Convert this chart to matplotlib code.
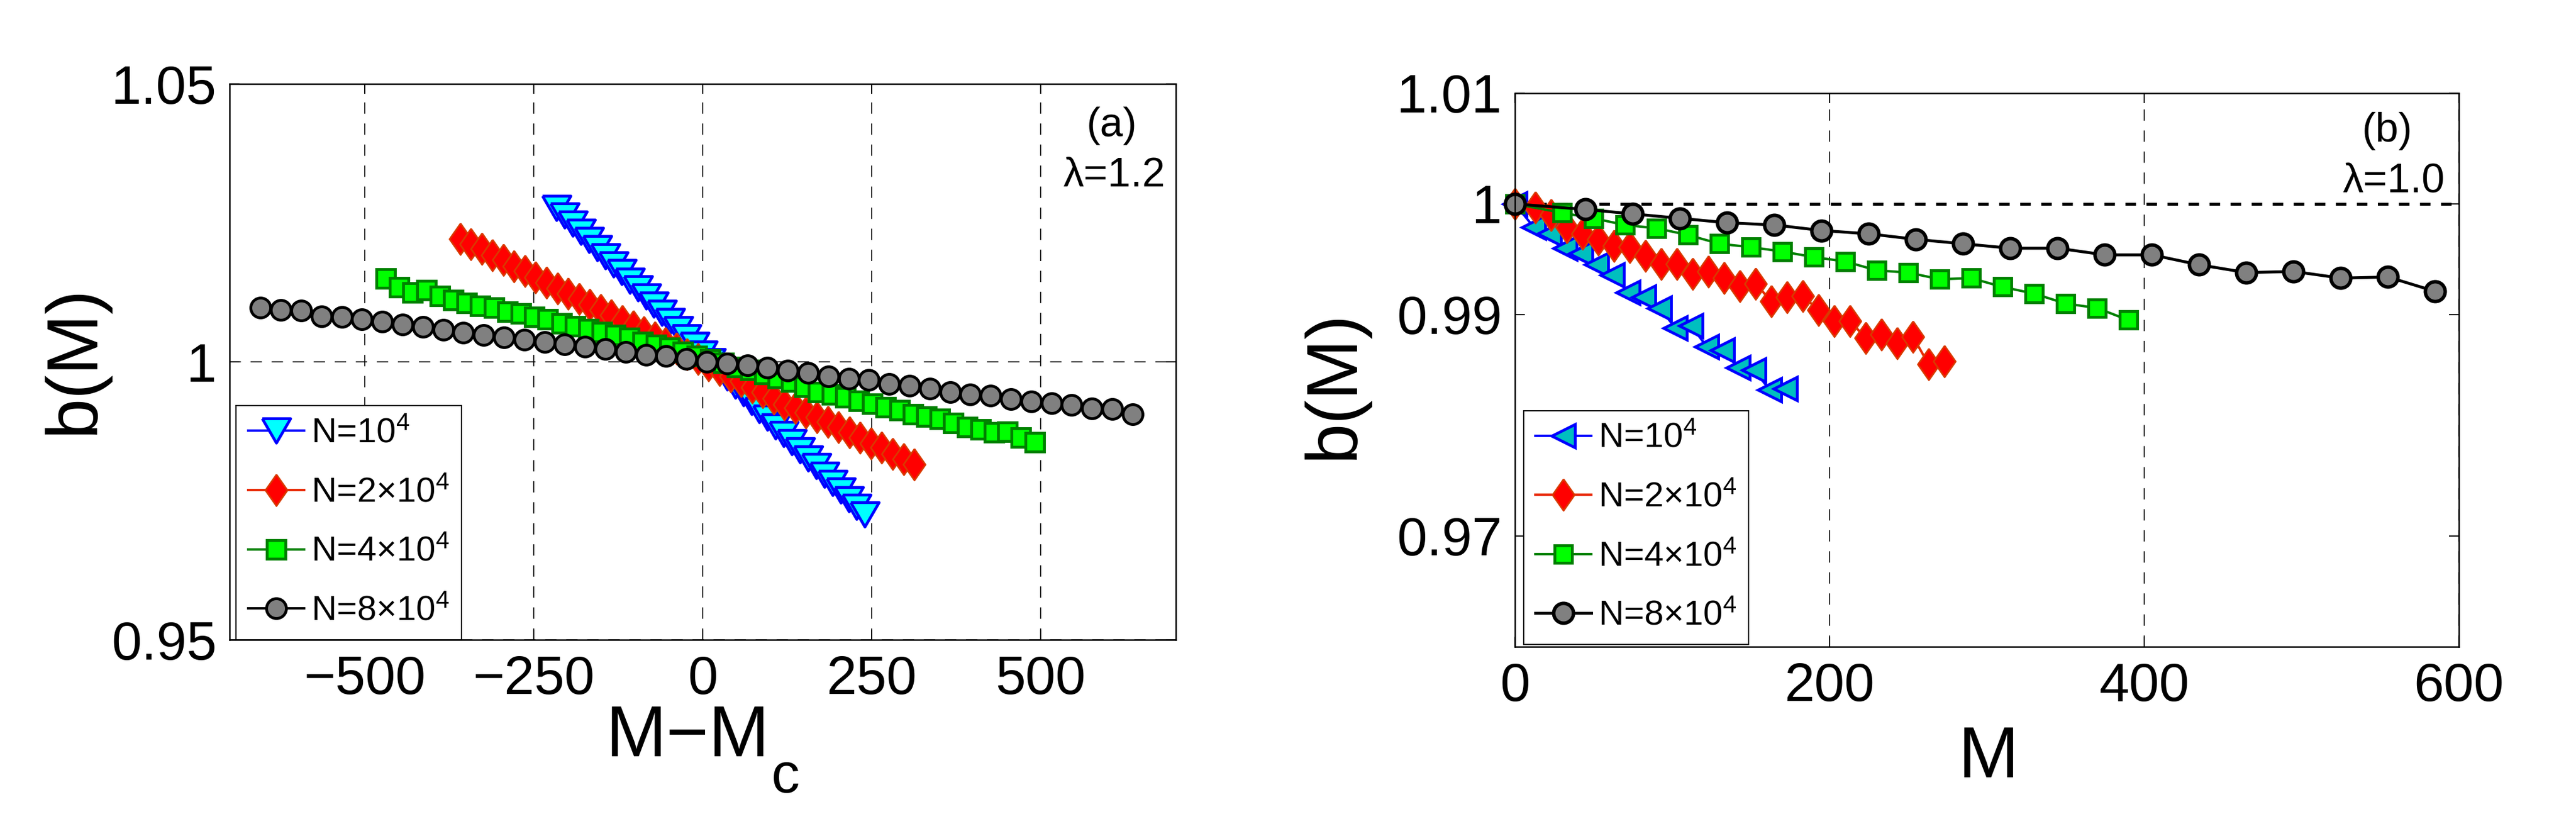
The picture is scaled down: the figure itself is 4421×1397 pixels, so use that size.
import matplotlib
matplotlib.use("Agg")
import matplotlib.pyplot as plt

plt.rcParams['font.family'] = ['Liberation Sans', 'DejaVu Sans']
plt.rcParams['mathtext.fontset'] = 'custom'
plt.rcParams['mathtext.rm'] = 'Liberation Sans'
plt.rcParams['mathtext.default'] = 'regular'
plt.rcParams['lines.scale_dashes'] = False

# ---- data, panel (a): lambda = 1.2, x = M - Mc
xa_n1 = [-216, -204, -192, -180, -168, -156, -144, -132, -120, -108, -96, -84, -72,
         -60, -48, -36, -24, -12, 0, 12, 24, 36, 48, 60, 72, 84, 96, 108, 120, 132,
         144, 156, 168, 180, 192, 204, 216, 228, 240]
ba_n1 = [1.0277, 1.0263, 1.0248, 1.0234, 1.0219, 1.0204, 1.0190, 1.0175, 1.0161, 1.0146,
         1.0132, 1.0117, 1.0103, 1.0088, 1.0073, 1.0059, 1.0044, 1.0030, 1.0015, 1.0001,
         0.9986, 0.9972, 0.9957, 0.9943, 0.9928, 0.9913, 0.9899, 0.9884, 0.9870, 0.9855,
         0.9841, 0.9826, 0.9812, 0.9797, 0.9782, 0.9768, 0.9753, 0.9739, 0.9725]

xa_n2 = [-359, -343, -327, -311, -295, -279, -263, -247, -231, -215, -199, -183, -167,
         -151, -135, -119, -103, -87, -71, -55, -39, -23, -7, 9, 25, 41, 57, 73, 89, 105,
         121, 137, 153, 169, 185, 201, 217, 233, 249, 265, 281, 297, 313]
ba_n2 = [1.0221, 1.0212, 1.0203, 1.0192, 1.0183, 1.0172, 1.0163, 1.0152, 1.0143, 1.0132,
         1.0123, 1.0113, 1.0103, 1.0093, 1.0084, 1.0073, 1.0064, 1.0053, 1.0044, 1.0034,
         1.0024, 1.0014, 1.0005, 0.9994, 0.9985, 0.9974, 0.9965, 0.9954, 0.9945, 0.9934,
         0.9924, 0.9917, 0.9909, 0.9900, 0.9892, 0.9883, 0.9873, 0.9864, 0.9853, 0.9846,
         0.9834, 0.9825, 0.9815]

xa_n4 = [-469, -449, -429, -409, -389, -369, -349, -329, -309, -289, -269, -249, -229,
         -209, -189, -169, -149, -129, -109, -89, -69, -49, -29, -9, 11, 31, 51, 71, 91,
         111, 131, 151, 171, 191, 211, 231, 251, 271, 291, 311, 331, 351, 371, 391, 411,
         431, 451, 471, 491]
ba_n4 = [1.0150, 1.0134, 1.0125, 1.0129, 1.0118, 1.0111, 1.0106, 1.0101, 1.0097, 1.0090,
         1.0087, 1.0081, 1.0076, 1.0069, 1.0064, 1.0059, 1.0053, 1.0048, 1.0043, 1.0036,
         1.0030, 1.0025, 1.0018, 1.0011, 1.0004, 0.9998, 0.9991, 0.9985, 0.9978, 0.9971,
         0.9964, 0.9955, 0.9946, 0.9941, 0.9936, 0.9930, 0.9925, 0.9918, 0.9913, 0.9906,
         0.9901, 0.9897, 0.9890, 0.9883, 0.9878, 0.9873, 0.9874, 0.9864, 0.9855]

xa_n8 = [-654, -624, -594, -564, -534, -504, -474, -444, -414, -384, -354, -324, -294,
         -264, -234, -204, -174, -144, -114, -84, -54, -24, 6, 36, 66, 96, 126, 156, 186,
         216, 246, 276, 306, 336, 366, 396, 426, 456, 486, 516, 546, 576, 606, 636]
ba_n8 = [1.0097, 1.0093, 1.0092, 1.0082, 1.0081, 1.0077, 1.0072, 1.0067, 1.0063, 1.0058,
         1.0052, 1.0048, 1.0044, 1.0040, 1.0036, 1.0031, 1.0027, 1.0023, 1.0018, 1.0013,
         1.0010, 1.0005, 1.0000, 0.9997, 0.9994, 0.9989, 0.9984, 0.9980, 0.9974, 0.9970,
         0.9967, 0.9960, 0.9957, 0.9952, 0.9946, 0.9941, 0.9939, 0.9933, 0.9929, 0.9926,
         0.9922, 0.9916, 0.9915, 0.9906]

# ---- data, panel (b): lambda = 1.0, x = M
xb_n1 = [0, 12, 22, 32, 42, 52, 62, 72, 82, 92, 102, 112, 122, 132, 142, 152, 162, 172]
bb_n1 = [1.0, 0.9979, 0.9973, 0.9960, 0.9955, 0.9945, 0.9936, 0.9920, 0.9916, 0.9906,
         0.9888, 0.9890, 0.9871, 0.9868, 0.9852, 0.9850, 0.9832, 0.9833]

xb_n2 = [0, 13, 23, 33, 43, 53, 63, 73, 83, 93, 103, 113, 123, 133, 143, 153, 163, 173,
         183, 193, 203, 213, 223, 233, 243, 253, 263, 273]
bb_n2 = [1.0, 0.9997, 0.9990, 0.9979, 0.9973, 0.9968, 0.9962, 0.9961, 0.9953, 0.9946,
         0.9946, 0.9937, 0.9939, 0.9933, 0.9926, 0.9928, 0.9912, 0.9916, 0.9917, 0.9904,
         0.9894, 0.9894, 0.9879, 0.9882, 0.9874, 0.9880, 0.9855, 0.9858]

xb_n4 = [0, 30, 50, 70, 90, 110, 130, 150, 170, 190, 210, 230, 250, 270, 290, 310, 330,
         350, 370, 390]
bb_n4 = [1.0, 0.9992, 0.9987, 0.9981, 0.9978, 0.9972, 0.9964, 0.9961, 0.9957, 0.9952,
         0.9948, 0.9940, 0.9938, 0.9932, 0.9933, 0.9925, 0.9919, 0.9910, 0.9906, 0.9895]

xb_n8 = [0, 45, 75, 105, 135, 165, 195, 225, 255, 285, 315, 345, 375, 405, 435, 465, 495,
         525, 555, 585]
bb_n8 = [1.0, 0.9995, 0.9991, 0.9987, 0.9983, 0.9981, 0.9976, 0.9973, 0.9968, 0.9964,
         0.9960, 0.9960, 0.9954, 0.9954, 0.9945, 0.9938, 0.9939, 0.9933, 0.9934, 0.9921]

labels = ['N=10$^{4}$', 'N=2×10$^{4}$', 'N=4×10$^{4}$', 'N=8×10$^{4}$']

# marker shapes
diamond = [(0, 1), (0.7, 0), (0, -1), (-0.7, 0), (0, 1)]
tri_down = [(-1, 0.86), (1, 0.86), (0, -0.86), (-1, 0.86)]

red_line = '#e82a00'
red_edge = '#d93a00'
green_edge = '#008000'

fig = plt.figure(figsize=(44.21, 13.97), dpi=100)
axa = fig.add_axes([0.08912, 0.21403, 0.36734, 0.68289])
axb = fig.add_axes([0.58810, 0.20544, 0.36643, 0.68003])

# panel (a)
axa.plot(xa_n1, ba_n1, '-', color='#0000ff', lw=3, marker=tri_down, ms=35,
         mfc='#00ffff', mec='#0000ff', mew=3.5, clip_on=False)
axa.plot(xa_n2, ba_n2, '-', color=red_line, lw=3, marker=diamond, ms=39,
         mfc='#ff0000', mec=red_edge, mew=2, clip_on=False)
axa.plot(xa_n4, ba_n4, '-', color=green_edge, lw=3, marker='s', ms=23,
         mfc='#00ff00', mec=green_edge, mew=3.5, clip_on=False)
axa.plot(xa_n8, ba_n8, '-', color='k', lw=3, marker='o', ms=24.5,
         mfc='#808080', mec='k', mew=3.5, clip_on=False)

axa.set_xlim(-700, 700)
axa.set_ylim(0.95, 1.05)
axa.set_xticks([-500, -250, 0, 250, 500])
axa.set_yticks([0.95, 1.0, 1.05])
axa.set_yticklabels(['0.95', '1', '1.05'])
axa.grid(True, linestyle=(0, (14, 12)), color='k', linewidth=1.2)

# panel (b)
axb.axhline(1.0, color='k', lw=3.6, linestyle=(0, (13, 13)), zorder=1.5)
axb.plot(xb_n1, bb_n1, '-', color='#0000ff', lw=3, marker='<', ms=29,
         mfc='#00bfbf', mec='#0000ff', mew=3.5, clip_on=False)
axb.plot(xb_n2, bb_n2, '-', color=red_line, lw=3, marker=diamond, ms=39,
         mfc='#ff0000', mec=red_edge, mew=2, clip_on=False)
axb.plot(xb_n4, bb_n4, '-', color=green_edge, lw=3, marker='s', ms=21.5,
         mfc='#00ff00', mec=green_edge, mew=3.5, clip_on=False)
axb.plot(xb_n8, bb_n8, '-', color='k', lw=3.6, marker='o', ms=24.5,
         mfc='#808080', mec='k', mew=4.3, clip_on=False)

axb.set_xlim(0, 600)
axb.set_ylim(0.96, 1.01)
axb.set_xticks([0, 200, 400, 600])
axb.set_yticks([0.97, 0.99, 1.0, 1.01])
axb.set_yticklabels(['0.97', '0.99', '1', '1.01'])
axb.grid(True, axis='x', linestyle=(0, (14, 12)), color='k', linewidth=1.2)

for ax in (axa, axb):
    ax.set_axisbelow(True)
    ax.tick_params(direction='in', length=12, width=1.5, top=True, right=True,
                   labelsize=67)
    ax.tick_params(axis='x', pad=19)
    ax.tick_params(axis='y', pad=16)
    for sp in ax.spines.values():
        sp.set_linewidth(1.8)
        sp.set_zorder(3)

# axis labels
axa.text(0.484, -0.2096, 'M−M', transform=axa.transAxes, fontsize=90,
         ha='center', va='baseline')
axa.text(0.5874, -0.2746, 'c', transform=axa.transAxes, fontsize=70,
         ha='center', va='baseline')
axa.text(-0.1638, 0.5042, 'b(M)', transform=axa.transAxes, fontsize=90,
         rotation=90, ha='center', va='center')
axb.text(0.5019, -0.2358, 'M', transform=axb.transAxes, fontsize=90,
         ha='center', va='baseline')
axb.text(-0.1914, 0.4737, 'b(M)', transform=axb.transAxes, fontsize=90,
         rotation=90, ha='center', va='center')

# panel tags
axa.text(0.9323, 0.9245, '(a)', transform=axa.transAxes, fontsize=51,
         ha='center', va='center')
axa.text(0.9889, 0.8344, 'λ=1.2', transform=axa.transAxes, fontsize=51,
         ha='right', va='center')
axb.text(0.924, 0.9316, '(b)', transform=axb.transAxes, fontsize=51,
         ha='center', va='center')
axb.text(0.985, 0.841, 'λ=1.0', transform=axb.transAxes, fontsize=51,
         ha='right', va='center')

# legends
for ax, anchor in ((axa, (0.007, 0.0)), (axb, (0.009, 0.004))):
    lines = [l for l in ax.get_lines() if l.get_marker() not in ('None', None, '')]
    leg = ax.legend(lines, labels, loc='lower left', bbox_to_anchor=anchor,
                    fontsize=43, frameon=True, fancybox=False, framealpha=1,
                    edgecolor='k', handlelength=1.6, handletextpad=0.2,
                    labelspacing=0.78, borderpad=0.35, borderaxespad=0)
    leg.get_frame().set_linewidth(1.5)
    leg.set_zorder(5)

fig.savefig('out.png', dpi=100)
